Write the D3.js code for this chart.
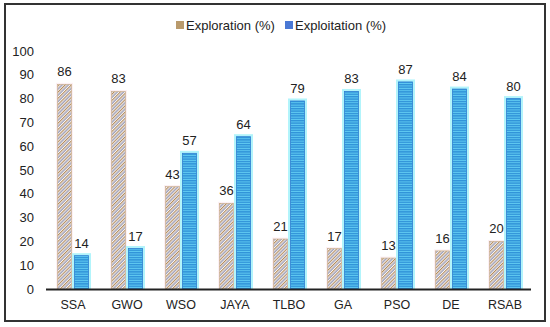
<!DOCTYPE html>
<html>
<head>
<meta charset="utf-8">
<script src="https://cdn.jsdelivr.net/npm/d3@7"></script>
<style>
  body { margin: 0; background: #fff; }
  text { font-family: "Liberation Sans", Arial, sans-serif; fill: #222; }
</style>
</head>
<body>
<svg id="chart" width="550" height="327"></svg>
<script>
var categories = ["SSA", "GWO", "WSO", "JAYA", "TLBO", "GA", "PSO", "DE", "RSAB"]
var exploration = [86, 83, 43, 36, 21, 17, 13, 16, 20]
var exploitation = [14, 17, 57, 64, 79, 83, 87, 84, 80]
var yTicks = [0, 10, 20, 30, 40, 50, 60, 70, 80, 90, 100]
var seriesNames = ["Exploration (%)", "Exploitation (%)"]

var svg = d3.select("#chart")
var defs = svg.append("defs")

// hatch for exploration
var hatch = defs.append("pattern").attr("id", "hatch")
  .attr("patternUnits", "userSpaceOnUse").attr("width", 4.4).attr("height", 4.4)
  .attr("patternTransform", "rotate(45)")
hatch.append("rect").attr("width", 4.4).attr("height", 4.4).attr("fill", "#fbf8f6")
hatch.append("rect").attr("x", 0).attr("width", 1.1).attr("height", 4.4).attr("fill", "#b08a5f")
hatch.append("rect").attr("x", 2.2).attr("width", 1.1).attr("height", 4.4).attr("fill", "#8586a4")

// horizontal stripes for exploitation
var stripe = defs.append("pattern").attr("id", "stripe")
  .attr("patternUnits", "userSpaceOnUse").attr("width", 4).attr("height", 2.4)
stripe.append("rect").attr("width", 4).attr("height", 2.4).attr("fill", "#2f92d8")
stripe.append("rect").attr("y", 1.4).attr("width", 4).attr("height", 1).attr("fill", "#62ccf2")

// solid legend swatch colours
var swatch = ["#b99a6c", "#4a78d4"]

// frame
svg.append("rect").attr("x", 5).attr("y", 4).attr("width", 540).attr("height", 317)
  .attr("fill", "none").attr("stroke", "#333").attr("stroke-width", 2)

var x = d3.scaleBand().domain(categories).range([46, 532])
var y = d3.scaleLinear().domain([0, 100]).range([289, 51])

var barW = 14, gap = 3

// y tick labels
svg.append("g").selectAll("text").data(yTicks).enter().append("text")
  .attr("x", 34).attr("y", function(d){ return y(d) + 4.5 })
  .attr("text-anchor", "end").style("font-size", "13px")
  .text(function(d){ return d })

// exploration bars
var g1 = svg.append("g")
g1.selectAll("rect.glow").data(exploration).enter().append("rect")
  .attr("x", function(d, i){ return x(categories[i]) + x.bandwidth()/2 - gap/2 - barW - 1.5 })
  .attr("y", function(d){ return y(d) - 1.5 })
  .attr("width", barW + 3).attr("height", function(d){ return y(0) - y(d) + 1.5 })
  .attr("fill", "#fcf0f4")
g1.selectAll("rect.bar").data(exploration).enter().append("rect")
  .attr("x", function(d, i){ return x(categories[i]) + x.bandwidth()/2 - gap/2 - barW })
  .attr("y", function(d){ return y(d) })
  .attr("width", barW).attr("height", function(d){ return y(0) - y(d) })
  .attr("fill", "url(#hatch)").attr("stroke", "#c9ab86").attr("stroke-width", 0.6)
g1.selectAll("text").data(exploration).enter().append("text")
  .attr("x", function(d, i){ return x(categories[i]) + x.bandwidth()/2 - gap/2 - barW/2 })
  .attr("y", function(d){ return y(d) - 8 })
  .attr("text-anchor", "middle").style("font-size", "13px")
  .text(function(d){ return d })

// exploitation bars
var g2 = svg.append("g")
g2.selectAll("rect.glow").data(exploitation).enter().append("rect")
  .attr("x", function(d, i){ return x(categories[i]) + x.bandwidth()/2 + gap/2 - 2.5 })
  .attr("y", function(d){ return y(d) - 2.5 })
  .attr("width", barW + 5).attr("height", function(d){ return y(0) - y(d) + 2.5 })
  .attr("fill", "#b2f4fb")
g2.selectAll("rect.bar").data(exploitation).enter().append("rect")
  .attr("x", function(d, i){ return x(categories[i]) + x.bandwidth()/2 + gap/2 })
  .attr("y", function(d){ return y(d) })
  .attr("width", barW).attr("height", function(d){ return y(0) - y(d) })
  .attr("fill", "url(#stripe)").attr("stroke", "#2f7fd2").attr("stroke-width", 0.8)
g2.selectAll("text").data(exploitation).enter().append("text")
  .attr("x", function(d, i){ return x(categories[i]) + x.bandwidth()/2 + gap/2 + barW/2 })
  .attr("y", function(d){ return y(d) - 8 })
  .attr("text-anchor", "middle").style("font-size", "13px")
  .text(function(d){ return d })

// x axis
svg.append("line").attr("x1", 46).attr("x2", 531).attr("y1", y(0) + 0.5).attr("y2", y(0) + 0.5)
  .attr("stroke", "#222").attr("stroke-width", 2)
svg.append("g").selectAll("text").data(categories).enter().append("text")
  .attr("x", function(d){ return x(d) + x.bandwidth()/2 })
  .attr("y", 309).attr("text-anchor", "middle").style("font-size", "12.5px")
  .text(function(d){ return d })

// legend
var leg = svg.append("g")
var legX = [176, 285]
leg.selectAll("rect.sw").data(seriesNames).enter().append("rect")
  .attr("x", function(d, i){ return legX[i] }).attr("y", 21)
  .attr("width", 8).attr("height", 8)
  .attr("fill", function(d, i){ return swatch[i] })
leg.selectAll("text").data(seriesNames).enter().append("text")
  .attr("x", function(d, i){ return legX[i] + 10 }).attr("y", 29.5)
  .style("font-size", "13px")
  .text(function(d){ return d })
</script>
</body>
</html>
